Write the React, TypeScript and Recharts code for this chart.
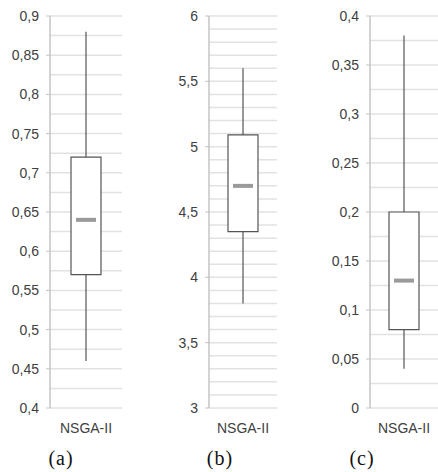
import { ComposedChart, Bar, XAxis, YAxis, CartesianGrid } from "recharts"

const categories = ["NSGA-II"]

// min, q1, median, q3, max
const statsA = [0.46, 0.57, 0.64, 0.72, 0.88]
const statsB = [3.8, 4.35, 4.7, 5.09, 5.6]
const statsC = [0.04, 0.08, 0.13, 0.2, 0.38]

const ticksA = [0.4, 0.45, 0.5, 0.55, 0.6, 0.65, 0.7, 0.75, 0.8, 0.85, 0.9]
const ticksB = [3, 3.5, 4, 4.5, 5, 5.5, 6]
const ticksC = [0, 0.05, 0.1, 0.15, 0.2, 0.25, 0.3, 0.35, 0.4]

const gridA = [0.4, 0.425, 0.45, 0.475, 0.5, 0.525, 0.55, 0.575, 0.6, 0.625, 0.65, 0.675, 0.7, 0.725, 0.75, 0.775, 0.8, 0.825, 0.85, 0.875, 0.9]
const gridB = [3, 3.1, 3.2, 3.3, 3.4, 3.5, 3.6, 3.7, 3.8, 3.9, 4, 4.1, 4.2, 4.3, 4.4, 4.5, 4.6, 4.7, 4.8, 4.9, 5, 5.1, 5.2, 5.3, 5.4, 5.5, 5.6, 5.7, 5.8, 5.9, 6]
const gridC = [0, 0.025, 0.05, 0.075, 0.1, 0.125, 0.15, 0.175, 0.2, 0.225, 0.25, 0.275, 0.3, 0.325, 0.35, 0.375, 0.4]

const captions = ["(a)", "(b)", "(c)"]

const sans = "'Liberation Sans', Arial, sans-serif"
const boxStroke = "#555"

const Whisker = (p: any) => {
  const cx = p.x + p.width / 2
  const top = Math.min(p.y, p.y + p.height)
  return <line x1={cx} x2={cx} y1={top} y2={top + Math.abs(p.height)} stroke={boxStroke} strokeWidth={1.2} />
}

const Median = (p: any) => {
  const cx = p.x + p.width / 2
  return <rect x={cx - 10} y={p.y - 2} width={20} height={4} fill="#9a9a9a" />
}

function Panel(props: {
  stats: number[]
  ticks: number[]
  grid: number[]
  left: number
  yWidth: number
  right: number
  caption: string
  captionX: number
}) {
  const { stats, ticks, grid, left, yWidth, right, caption, captionX } = props
  const data = categories.map((name) => ({
    name,
    whisker: [stats[0], stats[4]],
    box: [stats[1], stats[3]],
    median: [stats[2], stats[2]],
  }))
  const domain = [ticks[0], ticks[ticks.length - 1]]
  const fmt = (v: number) => String(v).replace(".", ",")
  return (
    <>
      <div style={{ position: "absolute", left, top: 0 }}>
        <ComposedChart width={146} height={450} data={data} margin={{ top: 16, right, left: 0, bottom: 0 }}>
          <CartesianGrid yAxisId="main" vertical={false} horizontalValues={grid} stroke="#e2e2e2" strokeWidth={1.5} />
          <YAxis
            yAxisId="main"
            width={yWidth}
            domain={domain}
            ticks={ticks}
            type="number"
            allowDataOverflow
            interval={0}
            tickFormatter={fmt}
            axisLine={{ stroke: "#c4c4c4", strokeWidth: 1.5 }}
            tickLine={{ stroke: "#c4c4c4" }}
            tickSize={4}
            tickMargin={7}
            tick={{ fill: "#404040", fontSize: 14, fontFamily: sans }}
          />
          <XAxis xAxisId="w" dataKey="name" hide height={0} />
          <XAxis xAxisId="m" dataKey="name" hide height={0} />
          <XAxis
            xAxisId="b"
            dataKey="name"
            height={42}
            axisLine={false}
            tickLine={false}
            tickSize={0}
            tickMargin={15}
            tick={{ fill: "#404040", fontSize: 14, fontFamily: sans }}
          />
          <Bar xAxisId="w" yAxisId="main" dataKey="whisker" barSize={30} shape={Whisker} isAnimationActive={false} />
          <Bar
            xAxisId="b"
            yAxisId="main"
            dataKey="box"
            barSize={30}
            fill="#ffffff"
            stroke={boxStroke}
            strokeWidth={1.2}
            isAnimationActive={false}
          />
          <Bar xAxisId="m" yAxisId="main" dataKey="median" barSize={30} shape={Median} isAnimationActive={false} />
        </ComposedChart>
      </div>
      <div
        style={{
          position: "absolute",
          left: captionX - 25,
          width: 50,
          top: 446,
          lineHeight: "24px",
          textAlign: "center",
          fontFamily: "'Liberation Serif', 'Times New Roman', serif",
          fontSize: 20,
          letterSpacing: 1,
          color: "#111",
        }}
      >
        {caption}
      </div>
    </>
  )
}

export default function App() {
  return (
    <div style={{ position: "absolute", left: 0, top: 0, width: 438, height: 472, background: "#fff" }}>
      <Panel stats={statsA} ticks={ticksA} grid={gridA} left={0} yWidth={50} right={24} caption={captions[0]} captionX={61} />
      <Panel stats={statsB} ticks={ticksB} grid={gridB} left={146} yWidth={63} right={15} caption={captions[1]} captionX={220} />
      <Panel stats={statsC} ticks={ticksC} grid={gridC} left={292} yWidth={78} right={0} caption={captions[2]} captionX={362} />
    </div>
  )
}
